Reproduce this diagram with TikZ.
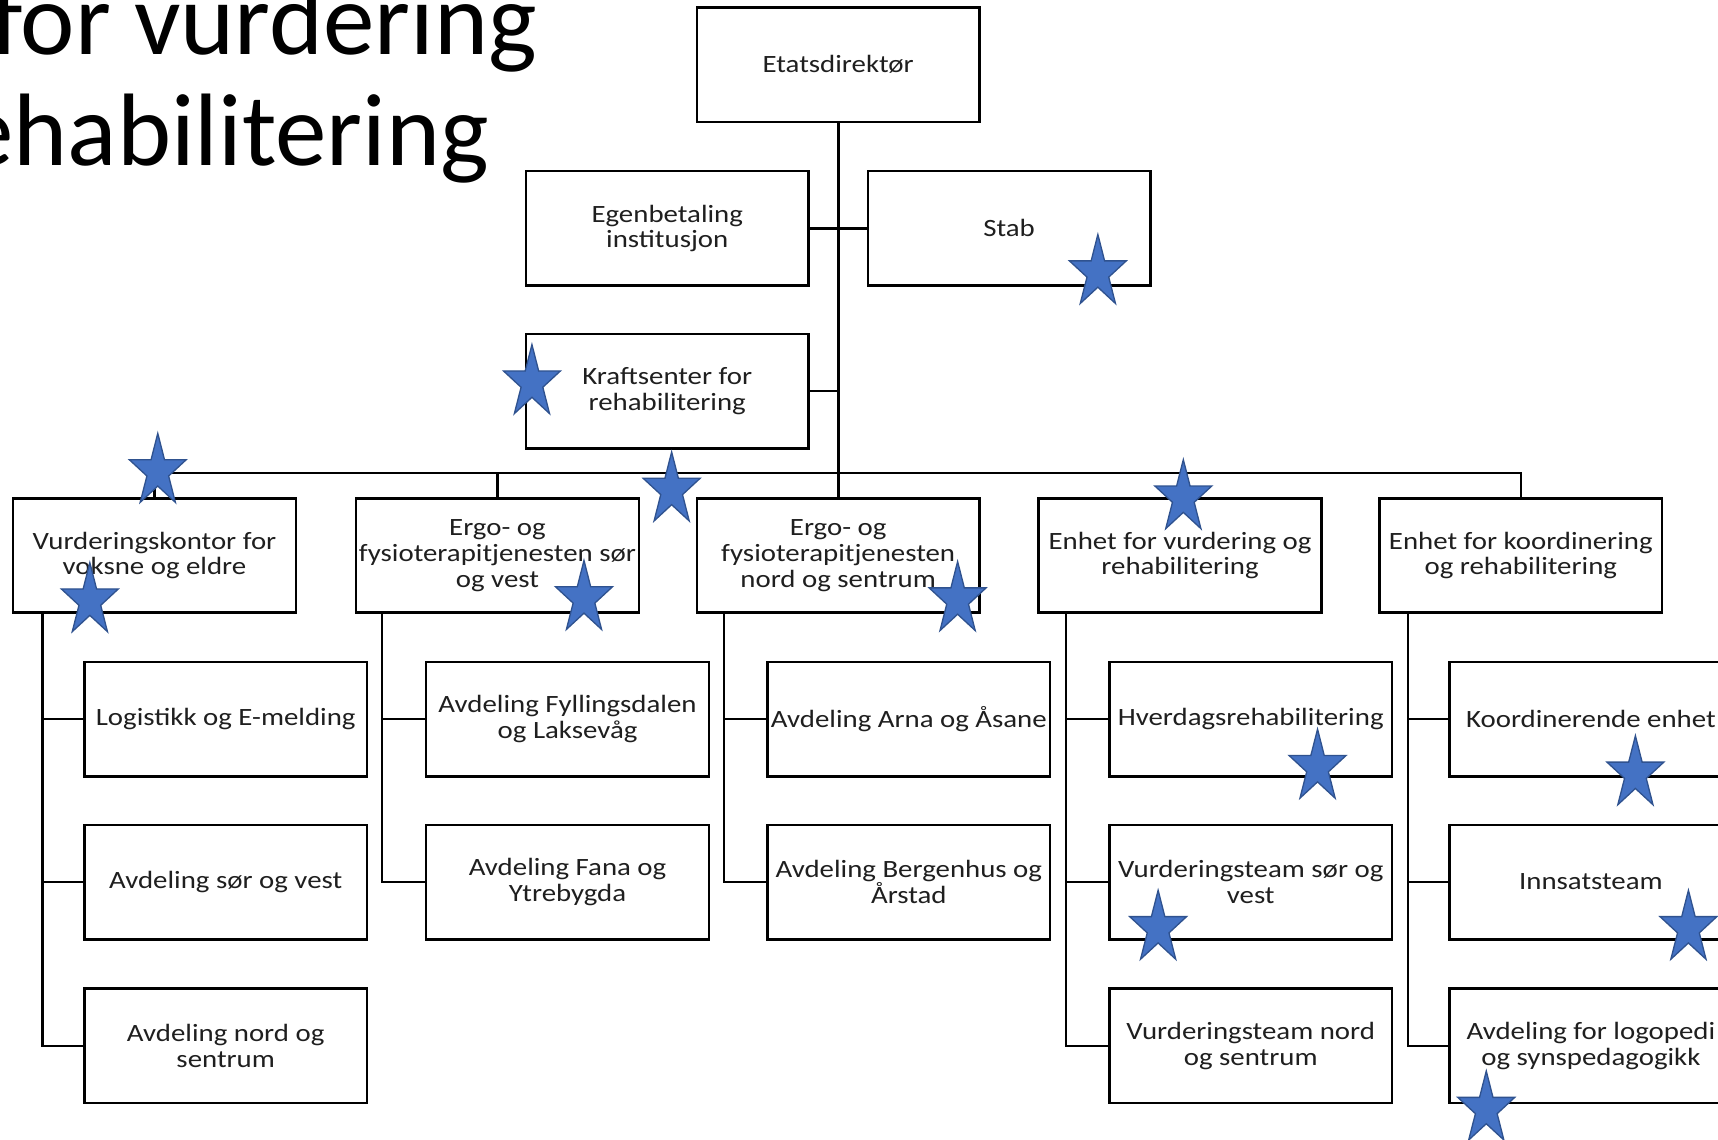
\documentclass[tikz,border=0pt]{standalone}
\usepackage{fontspec}
\setmainfont{Carlito}
\newfontfamily\boxfont[FakeStretch=1.16]{Carlito}
\newfontfamily\titlefont{Carlito}
\definecolor{starfill}{HTML}{4472C4}
\definecolor{starline}{HTML}{2F528F}
\tikzset{
  orgbox/.style={draw=black, line width=2.3pt, fill=white, minimum width=258pt, minimum height=104.5pt, inner sep=0pt, align=center, font=\boxfont\fontsize{22.7}{23.5}\selectfont, text=black!88},
  conn/.style={line width=2pt, black},
  trunk/.style={line width=3pt, black},
  titletext/.style={anchor=base west, inner sep=0pt, font=\titlefont\fontsize{94}{100}\selectfont},
  bluestar/.pic={\filldraw[fill=starfill, draw=starline, line width=1.2pt, line join=miter]
    (0,-0.9045) -- (-0.2245,-0.2135) -- (-0.951,-0.2135) -- (-0.3633,0.2135) -- (-0.588,0.9045)
    -- (0,0.4775) -- (0.588,0.9045) -- (0.3633,0.2135) -- (0.951,-0.2135) -- (0.2245,-0.2135) -- cycle;},
  starsz/.style={xscale=27.3, yscale=34.8}
}
\begin{document}
\begin{tikzpicture}[x=1pt, y=-1pt]
\useasboundingbox (0,0) rectangle (1568,1040);
\fill[white] (0,0) rectangle (1568,1040);
\begin{scope}
\clip (0,0) rectangle (1568,1040);
% title
\node[titletext] (t1) at (-8,50) {for vurdering};
\node[titletext] (t2) at (-66,151) {rehabilitering};
% top
\node[orgbox] (eta) at (765,59) {Etatsdirektør};
\node[orgbox] (egen) at (609,208.5) {Egenbetaling\\institusjon};
\node[orgbox] (stab) at (921,208.5) {Stab};
\node[orgbox] (kraft) at (609,357) {Kraftsenter for\\rehabilitering};
% level 2
\node[orgbox] (vk) at (141,507) {Vurderingskontor for\\voksne og eldre};
\node[orgbox] (es) at (454,507) {Ergo- og\\fysioterapitjenesten sør\\og vest};
\node[orgbox] (en) at (765,507) {Ergo- og\\fysioterapitjenesten\\nord og sentrum};
\node[orgbox] (ev) at (1077,507) {Enhet for vurdering og\\rehabilitering};
\node[orgbox] (ek) at (1388,507) {Enhet for koordinering\\og rehabilitering};
% level 3
\node[orgbox] (a1) at (206,656.5) {Logistikk og E-melding};
\node[orgbox] (a2) at (206,805) {Avdeling sør og vest};
\node[orgbox] (a3) at (206,954.5) {Avdeling nord og\\sentrum};
\node[orgbox] (b1) at (518,656.5) {Avdeling Fyllingsdalen\\og Laksevåg};
\node[orgbox] (b2) at (518,805) {Avdeling Fana og\\Ytrebygda};
\node[orgbox] (c1) at (829.5,656.5) {Avdeling Arna og Åsane};
\node[orgbox] (c2) at (829.5,805) {Avdeling Bergenhus og\\Årstad};
\node[orgbox] (d1) at (1141.5,656.5) {Hverdagsrehabilitering};
\node[orgbox] (d2) at (1141.5,805) {Vurderingsteam sør og\\vest};
\node[orgbox] (d3) at (1141.5,954.5) {Vurderingsteam nord\\og sentrum};
\node[orgbox] (e1) at (1452,656.5) {Koordinerende enhet};
\node[orgbox] (e2) at (1452,805) {Innsatsteam};
\node[orgbox] (e3) at (1452,954.5) {Avdeling for logopedi\\og synspedagogikk};
% connectors
\coordinate (bus) at (765,432);
\draw[trunk] (eta.south) -- (en.north);
\draw[conn] (egen.east) -- (stab.west);
\draw[conn] (kraft.east) -- (kraft.east -| eta.south);
\draw[conn] (vk.north) -- (vk.north |- bus) -- (ek.north |- bus) -- (ek.north);
\draw[conn] (es.north) -- (es.north |- bus);
\draw[conn] (ev.north) -- (ev.north |- bus);
% spines
\coordinate (s1) at ([xshift=28pt]vk.south west);
\coordinate (s2) at ([xshift=25pt]es.south west);
\coordinate (s3) at ([xshift=26pt]en.south west);
\coordinate (s4) at ([xshift=26pt]ev.south west);
\coordinate (s5) at ([xshift=27pt]ek.south west);
\draw[conn] (s1) |- (a3.west);
\draw[conn] (s1 |- a1.west) -- (a1.west);
\draw[conn] (s1 |- a2.west) -- (a2.west);
\draw[conn] (s2) |- (b2.west);
\draw[conn] (s2 |- b1.west) -- (b1.west);
\draw[conn] (s3) |- (c2.west);
\draw[conn] (s3 |- c1.west) -- (c1.west);
\draw[conn] (s4) |- (d3.west);
\draw[conn] (s4 |- d1.west) -- (d1.west);
\draw[conn] (s4 |- d2.west) -- (d2.west);
\draw[conn] (s5) |- (e3.west);
\draw[conn] (s5 |- e1.west) -- (e1.west);
\draw[conn] (s5 |- e2.west) -- (e2.west);
% stars
\foreach \p in {(1002,245.5),(485.5,346),(144,427),(82,545),(613,444),(533,543),(874,544),(1080,451),(1202.5,697),(1492.6,703),(1057,844),(1541,844),(1356.5,1009)}
  \pic[starsz] at \p {bluestar};
\end{scope}
\end{tikzpicture}
\end{document}
